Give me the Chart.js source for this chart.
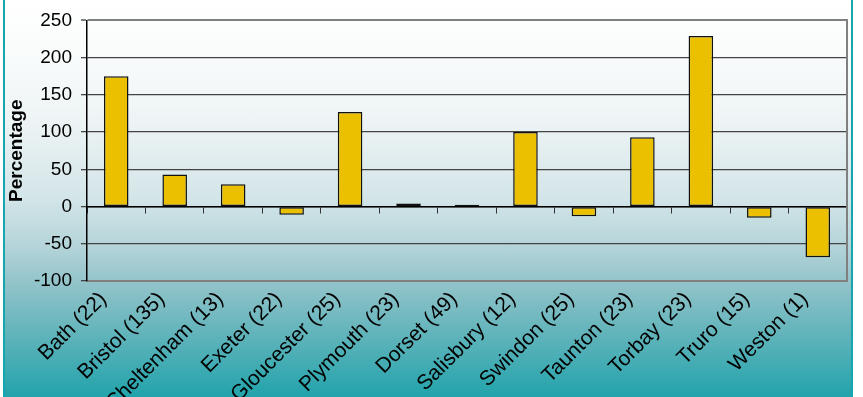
<!DOCTYPE html>
<html>
<head>
<meta charset="utf-8">
<script src="https://cdn.jsdelivr.net/npm/chart.js@4.4.1/dist/chart.umd.min.js"></script>
<style>
    html, body { margin: 0; padding: 0; background: #ffffff; }
    #frame {
        position: absolute; left: 3px; top: 0; width: 846px; height: 397px;
        border-left: 2px solid #17a6b0; border-right: 2px solid #17a6b0;
        background: linear-gradient(to bottom, #ffffff 0%, #fafcfc 12%, #eef4f5 30%, #d3e5e8 50%, #b4d4d9 62%, #93c4ca 71%, #62b4bb 84%, #22a3ab 100%);
    }
    #chartWrap { position: absolute; left: 0; top: 0; width: 863px; height: 397px; }
</style>
</head>
<body>
<div id="frame"></div>
<div id="chartWrap"><canvas id="pctChart" width="863" height="397"></canvas></div>
<script>
// Catégories (localités, nombre entre parenthèses)
var localities = ['Bath (22)', 'Bristol (135)', 'Cheltenham (13)', 'Exeter (22)', 'Gloucester (25)',
    'Plymouth (23)', 'Dorset (49)', 'Salisbury (12)', 'Swindon (25)', 'Taunton (23)',
    'Torbay (23)', 'Truro (15)', 'Weston (1)'];

// Valeurs en pourcentage
var percentValues = [175, 43, 30, -11, 127, 4, 2.5, 100, -13, 93, 229, -15, -68];

// Graduations de l'axe Y
var yMin = -100;
var yMax = 250;
var yStep = 50;

Chart.defaults.font.family = '"Liberation Sans", Arial, sans-serif';
Chart.defaults.color = '#000';

var ctx = document.getElementById('pctChart').getContext('2d');

var pctChart = new Chart(ctx, {
    type: 'bar',
    data: {
        labels: localities,
        datasets: [{
            label: 'Percentage',
            data: percentValues,
            backgroundColor: '#ebc000',
            borderColor: '#111',
            borderWidth: 1.5,
            borderSkipped: false,
            barPercentage: 0.42,
            categoryPercentage: 1,
            xAxisID: 'x',
            yAxisID: 'y'
        }]
    },
    options: {
        responsive: false,
        animation: false,
        layout: { padding: { top: 17, right: 16, left: 0, bottom: 0 } },
        plugins: {
            legend: { display: false },
            tooltip: { enabled: false }
        },
        scales: {
            x: {
                position: 'bottom',
                grid: { display: false, drawTicks: false },
                border: { color: '#808080', width: 2 },
                ticks: {
                    minRotation: 45,
                    maxRotation: 45,
                    autoSkip: false,
                    padding: 6,
                    labelOffset: -13,
                    font: { size: 21 }
                },
                afterFit: function(scale) { scale.height = 116; }
            },
            // axe des catégories sur la ligne zéro (petites graduations)
            x2: {
                type: 'category',
                position: { y: 0 },
                offset: true,
                grid: { drawOnChartArea: false, drawTicks: true, tickLength: 6, color: '#333', offset: true },
                border: { color: '#000', width: 1.5 },
                ticks: { display: false }
            },
            y: {
                min: yMin,
                max: yMax,
                ticks: {
                    stepSize: yStep,
                    padding: 9,
                    font: { size: 19 }
                },
                grid: {
                    tickLength: 6,
                    color: function(c) { return c.tick && c.tick.value === yMax ? '#808080' : '#444'; },
                    lineWidth: function(c) { return c.tick && c.tick.value === yMax ? 2 : 1.3; }
                },
                border: { color: '#000', width: 1.5 },
                title: {
                    display: true,
                    text: 'Percentage',
                    font: { size: 19, weight: 'bold' },
                    padding: { top: 5, bottom: 0 }
                },
                afterFit: function(scale) { scale.width = 87; }
            },
            // bordure droite du graphique
            y2: {
                position: 'right',
                min: yMin,
                max: yMax,
                grid: { display: false },
                ticks: { display: false },
                border: { color: '#808080', width: 2 },
                afterFit: function(scale) { scale.width = 0; }
            }
        }
    }
});
</script>
</body>
</html>
